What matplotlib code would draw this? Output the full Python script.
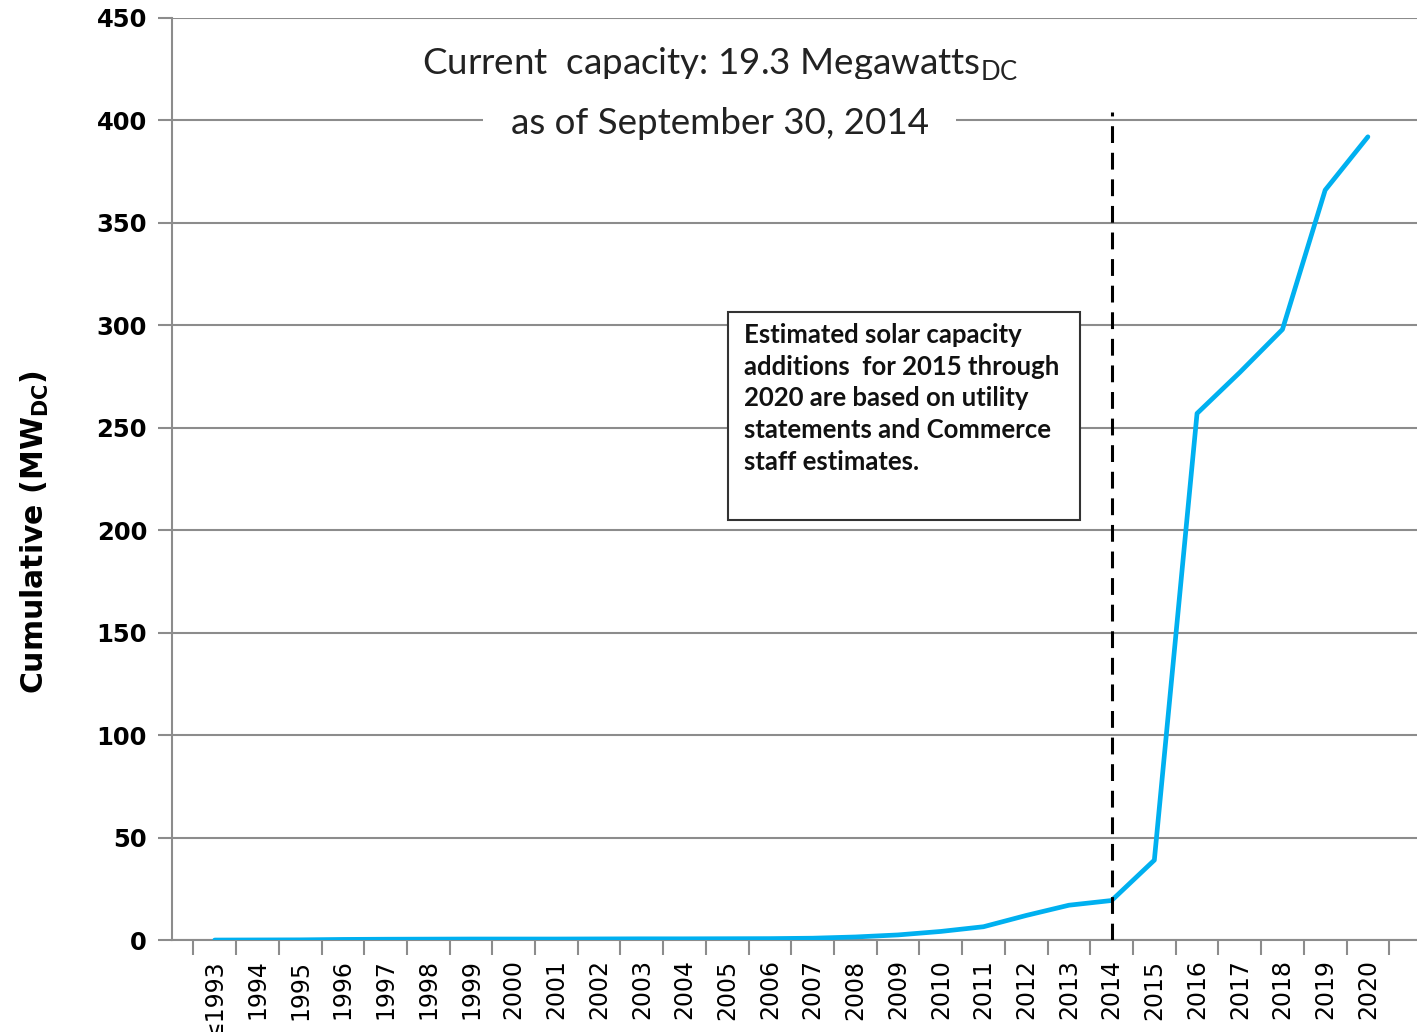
import matplotlib
matplotlib.use("Agg")
import matplotlib.pyplot as plt
import numpy as np
from matplotlib.patches import Rectangle

# Cumulative solar capacity (MW DC)
years = ["\u22641993", "1994", "1995", "1996", "1997", "1998", "1999", "2000",
         "2001", "2002", "2003", "2004", "2005", "2006", "2007", "2008",
         "2009", "2010", "2011", "2012", "2013", "2014", "2015", "2016",
         "2017", "2018", "2019", "2020"]
capacity = [0.0, 0.05, 0.1, 0.3, 0.4, 0.45, 0.5, 0.5, 0.5, 0.55, 0.6, 0.6,
            0.65, 0.7, 0.9, 1.5, 2.5, 4.2, 6.5, 12.0, 17.0, 19.3, 39.0,
            257.0, 277.0, 298.0, 366.0, 392.0]
y_ticks = [0, 50, 100, 150, 200, 250, 300, 350, 400, 450]
cutoff_year = "2014"

grey = "#8c8c8c"

fig = plt.figure(figsize=(14.17, 10.32), dpi=100)
ax = fig.add_axes([0.1214, 0.0891, 0.8786, 0.8935])

x = np.arange(len(years))
ax.plot(x, capacity, color="#00B0F0", linewidth=3.4, solid_capstyle="round",
        zorder=3)

# dashed line marking the last actual data point
xc = years.index(cutoff_year)
ax.plot([xc, xc], [0, 404], color="black", linestyle=(0, (5.5, 3.2)),
        linewidth=2.2, zorder=4)

ax.set_xlim(-1, 28.15)
ax.set_ylim(0, 450)
ax.set_yticks(y_ticks)
ax.set_yticklabels([str(v) for v in y_ticks], fontsize=17.5, fontweight="bold",
                   family="DejaVu Sans")
ax.set_xticks(x)
ax.set_xticklabels(years, rotation=90, fontsize=17, family="DejaVu Sans")
ax.set_xticks(np.arange(-0.5, len(years) + 0.5, 1), minor=True)
ax.tick_params(axis="x", which="major", length=0, pad=14)
ax.tick_params(axis="x", which="minor", length=11, color=grey, width=1.5)
ax.tick_params(axis="y", length=10, color=grey, width=1.5, pad=8)

ax.grid(axis="y", color=grey, linewidth=1.5)
ax.set_axisbelow(True)
for side in ["top", "right"]:
    ax.spines[side].set_visible(False)
for side in ["left", "bottom"]:
    ax.spines[side].set_color(grey)
    ax.spines[side].set_linewidth(1.5)

ax.set_ylabel("Cumulative (MW$_{\\mathregular{DC}}$)", fontsize=21.5,
              fontweight="bold", family="DejaVu Sans")
ax.yaxis.set_label_coords(-0.097, 0.4425)

# header text
ax.text(0.44, 0.95, "Current  capacity: 19.3 Megawatts$_{\\mathregular{DC}}$",
        transform=ax.transAxes, ha="center", va="center", fontsize=26.5,
        family="Lato", color="#222222")
ax.text(0.44, 0.886, "as of September 30, 2014", transform=ax.transAxes,
        ha="center", va="center", fontsize=26.5, family="Lato", color="#222222",
        bbox=dict(facecolor="white", edgecolor="none", boxstyle="square,pad=0.75"),
        zorder=5)

# note box
ax.add_patch(Rectangle((12.01, 205), 8.25, 101.5, facecolor="white",
                       edgecolor="#333333", linewidth=1.5, zorder=5))
ax.text(12.4, 301, "Estimated solar capacity\nadditions  for 2015 through\n"
        "2020 are based on utility\nstatements and Commerce\nstaff estimates.",
        ha="left", va="top", fontsize=18.5, fontweight="bold", family="Lato",
        linespacing=1.38, zorder=6, color="#111111")

fig.savefig("out.png", dpi=100)
